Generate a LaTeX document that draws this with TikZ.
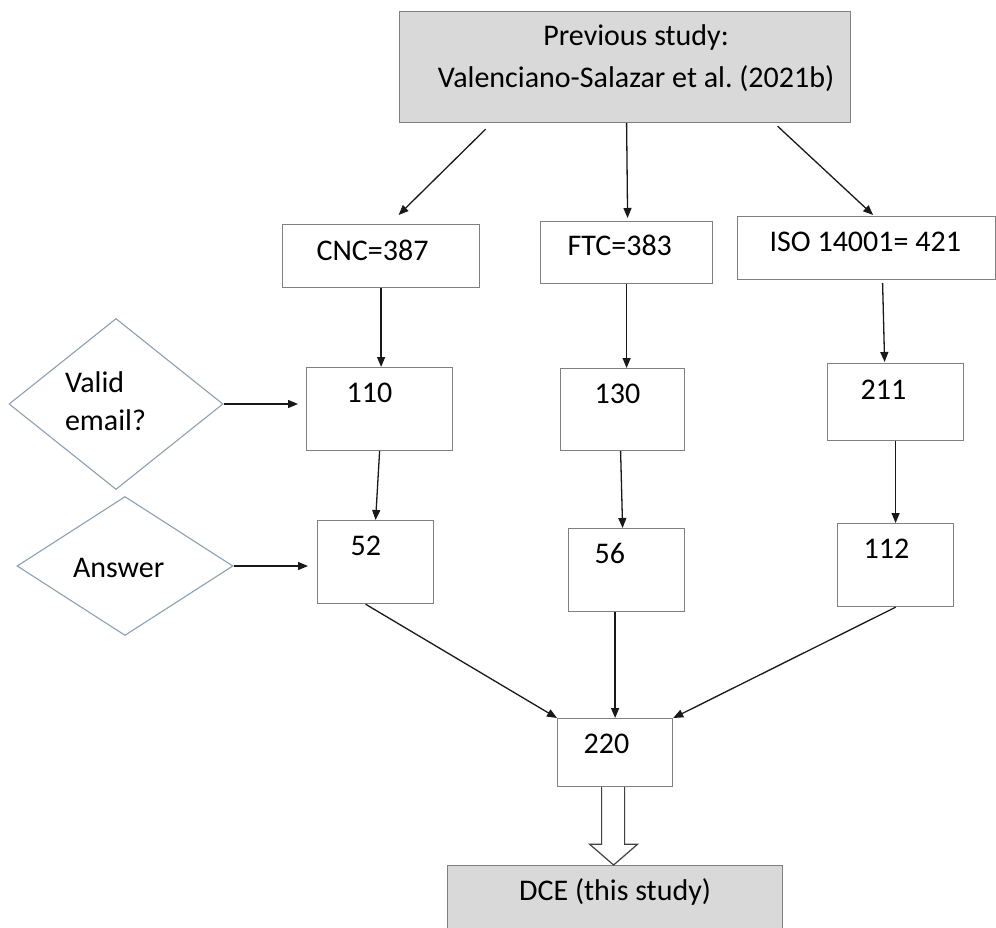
\documentclass[tikz,border=0pt]{standalone}
\usepackage{fontspec}
\setmainfont{Carlito}
\frenchspacing
\usetikzlibrary{arrows.meta,calc,shapes.geometric}
\definecolor{boxline}{RGB}{128,128,128}
\definecolor{boxfill}{RGB}{217,217,217}
\definecolor{diamondline}{RGB}{140,160,178}
\definecolor{hollowline}{RGB}{64,64,64}

\begin{document}
\begin{tikzpicture}[x=1pt,y=-1pt,
    font=\fontsize{30}{42}\selectfont,
    stage/.style={draw=boxline,line width=1.2pt,anchor=north west,inner ysep=0pt,align=flush left},
    grey/.style={stage,fill=boxfill},
    decision/.style={diamond,draw=diamondline,line width=1.1pt,inner sep=0pt,align=flush left},
    flow/.style={-{Triangle[length=10pt,width=8pt]},line width=1.3pt,black!90}]
    \useasboundingbox (0,0) rectangle (996,927);

    \node[grey,inner xsep=0pt,text width=451pt,align=flush center,text height=34pt,text depth=77pt] (prev) at (399,11) {\hspace*{22pt}Previous study:\\\hspace*{22pt}Valenciano-Salazar et al. (2021b)};

    \node[stage,inner xsep=34pt,text width=129pt,text height=36pt,text depth=27pt] (cnc) at (282,224) {CNC=387};
    \node[stage,inner xsep=27pt,text width=118pt,text height=34pt,text depth=28pt] (ftc) at (540,221) {FTC=383};
    \node[stage,inner xsep=32pt,text width=194pt,text height=35pt,text depth=28pt] (iso) at (737,216) {ISO 14001= 421};

    \node[stage,inner xsep=40pt,text width=66pt,text height=35pt,text depth=48pt] (n110) at (306,367) {110};
    \node[stage,inner xsep=34pt,text width=56pt,text height=35pt,text depth=47pt] (n130) at (560,368) {130};
    \node[stage,inner xsep=33pt,text width=70pt,text height=36pt,text depth=41pt] (n211) at (827,363) {211};

    \node[stage,inner xsep=33pt,text width=50pt,text height=35pt,text depth=48pt] (n52) at (317,520) {52};
    \node[stage,inner xsep=26pt,text width=64pt,text height=35pt,text depth=48pt] (n56) at (568,528) {56};
    \node[stage,inner xsep=26pt,text width=64pt,text height=35pt,text depth=48pt] (n112) at (837,523) {112};

    \node[stage,inner xsep=26pt,text width=63pt,text height=35pt,text depth=33pt] (n220) at (557,718) {220};
    \node[grey,inner xsep=69pt,text width=197pt,align=flush center,text height=35pt,text depth=30pt] (dce) at (447,865) {DCE (this study)};

    \node[decision,aspect=1.25,minimum width=214pt,minimum height=171pt,text width=102pt,text height=25pt,text depth=49pt,font=\fontsize{30}{38}\selectfont] (valid) at (116,404) {Valid\\email?};
    \node[decision,aspect=1.55,minimum width=216pt,minimum height=139pt,text width=104pt,text height=22pt,text depth=0pt] (answer) at (125,566) {Answer};

    \draw[flow] ($(prev.south)+(-139.5,6)$) -- ($(cnc.north)+(17.5,-9)$);
    \draw[flow] ($(prev.south)+(1.5,0)$) -- ($(ftc.north)+(1,-3)$);
    \draw[flow] ($(prev.south)+(152.5,3)$) -- ($(iso.north)+(6.5,-1)$);

    \draw[flow] (cnc.south) -- (cnc.south |- n110.north);
    \draw[flow] (ftc.south) -- (ftc.south |- n130.north);
    \draw[flow] ($(iso.south)+(16,3)$) -- ($(n211.north)+(-11,-1)$);

    \draw[flow] (n110.south) -- (n52.north);
    \draw[flow] ($(n130.south)+(-2,0)$) -- ($(n56.north)+(-4,0)$);
    \draw[flow] (n211.south) -- (n211.south |- n112.north);

    \draw[flow] ($(n52.south)+(-10,0)$) -- (n220.north west);
    \draw[flow] ($(n56.south)+(-11.5,0)$) -- (n220.north);
    \draw[flow] (n112.south) -- (n220.north east);

    \draw[flow,shorten >=8pt] (valid.east) -- (valid.east -| n110.west);
    \draw[flow,shorten >=9pt] (answer.east) -- (answer.east -| n52.west);

    % hollow arrow down to this study
    \draw[hollowline,line width=1.2pt] ($(n220.south)+(9.5,0)$) -- ++(0,57) -- ++(13,0) -- ($(dce.north)+(-1.5,0)$) -- ($(n220.south)+(-25.5,57)$) -- ++(12,0) -- ++(0,-57);
\end{tikzpicture}
\end{document}
